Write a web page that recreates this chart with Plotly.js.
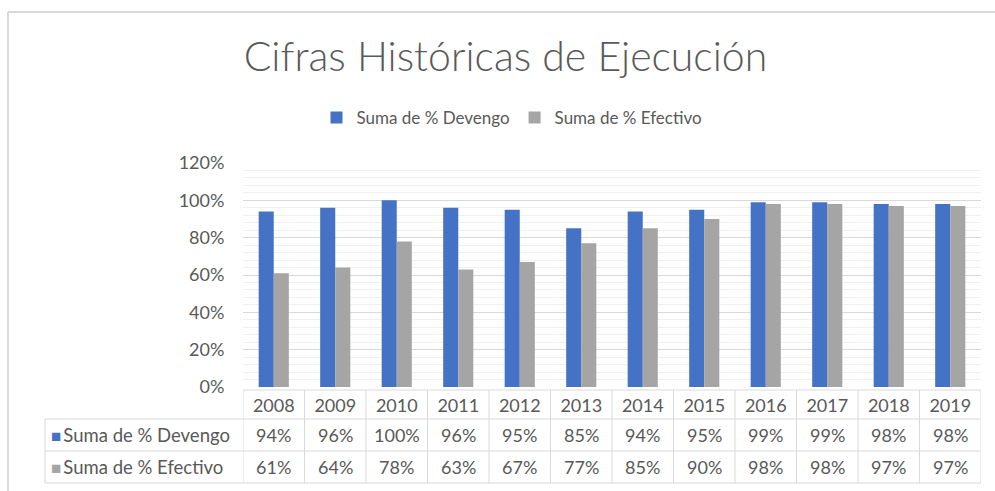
<!DOCTYPE html>
<html>
<head>
<meta charset="utf-8">
<script src="https://cdn.plot.ly/plotly-3.0.1.min.js"></script>
<style>body{margin:0;padding:0;background:#fff;}#chart{width:995px;height:491px;}</style>
</head>
<body>
<div id="chart"></div>
<script>
const years = ['2008','2009','2010','2011','2012','2013','2014','2015','2016','2017','2018','2019'];
const devengo = [0.94,0.96,1.00,0.96,0.95,0.85,0.94,0.95,0.99,0.99,0.98,0.98];
const efectivo = [0.61,0.64,0.78,0.63,0.67,0.77,0.85,0.90,0.98,0.98,0.97,0.97];
const seriesNames = ['Suma de % Devengo','Suma de % Efectivo'];
const seriesColors = ['#4472C4','#A5A5A5'];
const chartTitle = 'Cifras Históricas de Ejecución';

const txt = '#595959';
const lineCol = '#D9D9D9';
const fontFam = 'Lato, "Open Sans", sans-serif';

// plot area geometry (px)
const W = 995, H = 491, L = 243, R = 14, T = 163, B = 104;
const pw = W - L - R, ph = H - T - B;
const py = y => (H - B - y) / ph;   // pixel y -> paper
const px = x => (x - L) / pw;       // pixel x -> paper

const traces = [
  {type:'bar', x: years, y: devengo, name: seriesNames[0], marker:{color: seriesColors[0]}},
  {type:'bar', x: years, y: efectivo, name: seriesNames[1], marker:{color: seriesColors[1]}}
];

const shapes = [];
const ln = {color: lineCol, width: 1};
// vertical column lines of data table
for (let i = 0; i <= years.length; i++) {
  shapes.push({type:'line', xref:'x', yref:'paper', x0: i-0.5, x1: i-0.5, y0: py(390), y1: py(483), line: ln});
}
// horizontal lines
shapes.push({type:'line', xref:'paper', yref:'paper', x0: 0, x1: 1, y0: py(390), y1: py(390), line: ln});
[419, 451, 483].forEach(yy => shapes.push({type:'line', xref:'paper', yref:'paper', x0: px(45), x1: 1, y0: py(yy), y1: py(yy), line: ln}));
shapes.push({type:'line', xref:'paper', yref:'paper', x0: px(45), x1: px(45), y0: py(419), y1: py(483), line: ln});
// outer chart border (top and left)
shapes.push({type:'line', xref:'paper', yref:'paper', x0: px(8), x1: px(1000), y0: py(12), y1: py(12), line:{color:'#D9D9D9', width:2}});
shapes.push({type:'line', xref:'paper', yref:'paper', x0: px(8), x1: px(8), y0: py(12), y1: py(495), line:{color:'#D9D9D9', width:2}});

const annotations = [];
const rows = [devengo, efectivo];
const rowY = [435, 467];
rows.forEach((vals, r) => {
  annotations.push({xref:'paper', yref:'paper', x: px(49), y: py(rowY[r]), xanchor:'left', yanchor:'middle', showarrow:false,
    text: '<span style="color:' + seriesColors[r] + ';font-size:17px">■</span><span style="font-size:8px"> </span>' + seriesNames[r],
    font:{family: fontFam, size: 18.5, color: txt}});
  vals.forEach((v, i) => {
    annotations.push({xref:'x', yref:'paper', x: i, y: py(rowY[r]), xanchor:'center', yanchor:'middle', showarrow:false,
      text: Math.round(v*100) + '%', font:{family: fontFam, size: 18, color: txt}});
  });
});

const layout = {
  width: W, height: H,
  margin: {l: L, r: R, t: T, b: B, pad: 0},
  paper_bgcolor: '#fff', plot_bgcolor: '#fff',
  title: {text: chartTitle, font:{family: 'Lato, "Open Sans", sans-serif', size: 41, color: txt, weight: 300},
    x: 0.508, xanchor:'center', y: 1 - 57/H, yanchor:'middle', yref:'container'},
  showlegend: true,
  legend: {orientation:'h', x: px(512), xanchor:'center', y: py(118), yanchor:'middle',
    font:{family: fontFam, size: 17, color: txt}, traceorder:'normal'},
  barmode: 'group', bargap: 0.51, bargroupgap: 0,
  xaxis: {type:'category', range:[-0.5, years.length - 0.5], autorange:false, showgrid:false, zeroline:false, showline:false,
    ticks:'outside', ticklen: 2, tickcolor:'rgba(0,0,0,0)', tickfont:{family: fontFam, size: 18, color: txt}, fixedrange: true},
  yaxis: {range:[0,1.2], autorange:false, dtick:0.2, tickformat:'.0%', showgrid:true, gridcolor:'#D9D9D9', gridwidth:1, zeroline:false,
    ticks:'outside', ticklen: 14, tickcolor:'rgba(0,0,0,0)',
    minor:{dtick:0.04, showgrid:true, gridcolor:'#F0F0F0', gridwidth:1},
    tickfont:{family: fontFam, size: 18, color: txt}, fixedrange: true},
  shapes: shapes,
  annotations: annotations
};

Plotly.newPlot('chart', traces, layout, {displayModeBar:false, staticPlot:true});
</script>
</body>
</html>
